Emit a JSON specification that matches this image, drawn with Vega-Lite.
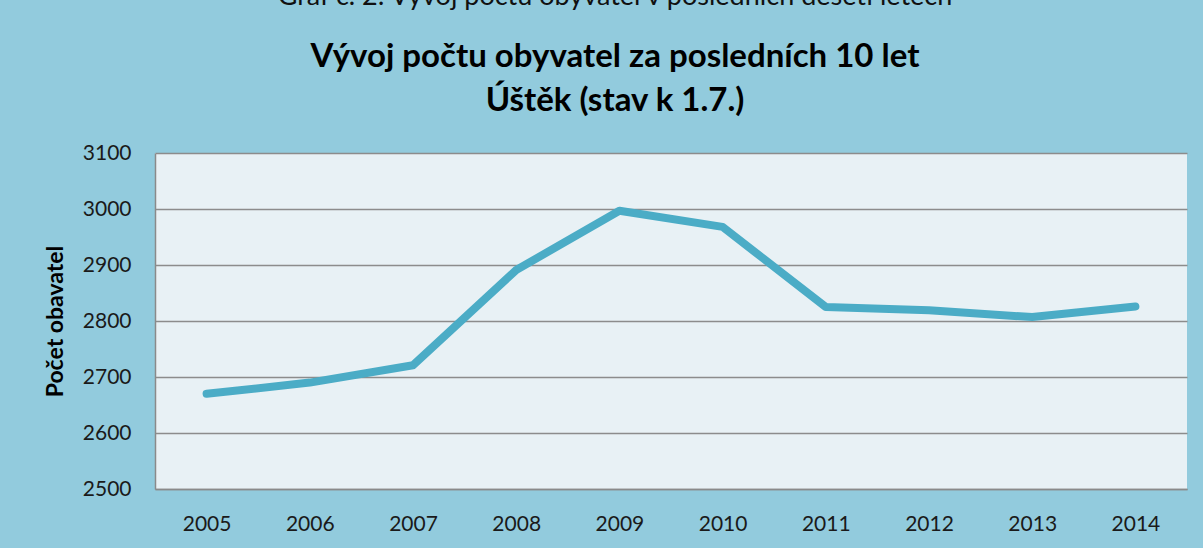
{
  "$schema": "https://vega.github.io/schema/vega-lite/v6.json",
  "width": 1032,
  "height": 336,
  "autosize": {"type": "none"},
  "padding": {"left": 155, "top": 153, "right": 16, "bottom": 59},
  "background": "#92CBDD",
  "title": {
    "text": "Graf č. 2: Vývoj počtu obyvatel v posledních deseti letech",
    "subtitle": ["Vývoj počtu obyvatel za posledních 10 let", "Úštěk (stav k 1.7.)"],
    "anchor": "middle",
    "frame": "group",
    "dx": -56,
    "offset": 23,
    "font": "Lato",
    "fontSize": 27,
    "fontWeight": "normal",
    "color": "#111111",
    "subtitleFont": "Lato",
    "subtitleFontSize": 33,
    "subtitleFontWeight": "bold",
    "subtitleColor": "#000000",
    "subtitleLineHeight": 44,
    "subtitlePadding": 30
  },
  "data": {
    "values": [
      {"rok": "2005", "pocet": 2670},
      {"rok": "2006", "pocet": 2690},
      {"rok": "2007", "pocet": 2721},
      {"rok": "2008", "pocet": 2891},
      {"rok": "2009", "pocet": 2997},
      {"rok": "2010", "pocet": 2968},
      {"rok": "2011", "pocet": 2825},
      {"rok": "2012", "pocet": 2819},
      {"rok": "2013", "pocet": 2807},
      {"rok": "2014", "pocet": 2826}
    ]
  },
  "mark": {"type": "line", "color": "#4BACC6", "strokeWidth": 8, "strokeCap": "round", "strokeJoin": "round"},
  "encoding": {
    "x": {
      "field": "rok",
      "type": "ordinal",
      "scale": {"type": "point", "padding": 0.5},
      "axis": {
        "title": null,
        "labelAngle": 0,
        "labelFont": "Lato",
        "labelFontSize": 21,
        "labelColor": "#1a1a1a",
        "labelPadding": 24,
        "ticks": false,
        "domain": true,
        "domainColor": "#8a8a8a",
        "domainWidth": 1.5,
        "grid": false
      }
    },
    "y": {
      "field": "pocet",
      "type": "quantitative",
      "scale": {"domain": [2500, 3100], "nice": false, "zero": false},
      "axis": {
        "values": [2500, 2600, 2700, 2800, 2900, 3000, 3100],
        "format": "d",
        "title": "Počet obavatel",
        "titleFont": "Lato",
        "titleFontSize": 23,
        "titleFontWeight": "bold",
        "titleColor": "#000000",
        "titlePadding": 15,
        "labelFont": "Lato",
        "labelFontSize": 21,
        "labelColor": "#1a1a1a",
        "labelPadding": 24,
        "ticks": false,
        "domain": true,
        "domainColor": "#8a8a8a",
        "domainWidth": 1.5,
        "grid": true,
        "gridColor": "#8c8c8c",
        "gridWidth": 1.4
      }
    }
  },
  "config": {
    "view": {"fill": "#E8F1F5", "stroke": null}
  }
}
